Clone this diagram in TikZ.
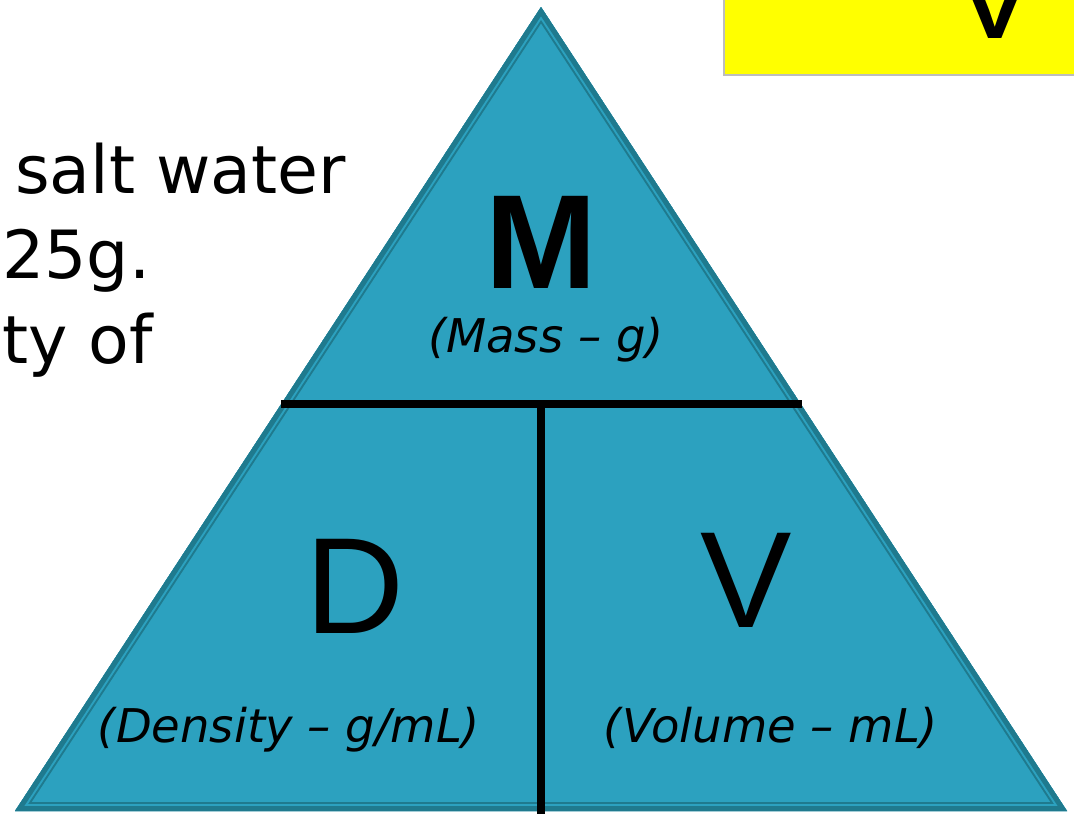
\documentclass[tikz,border=0pt]{standalone}
\usepackage{fontspec}
\setmainfont{DejaVu Sans}
\newfontfamily\arialf{Liberation Sans}
\definecolor{tealfill}{HTML}{2CA1BF}
\definecolor{tealdark}{HTML}{1F7A8E}
\definecolor{slideyellow}{HTML}{FFFF00}
\definecolor{boxgray}{HTML}{BDBDBD}
\tikzset{
  bodytext/.style={font=\fontsize{66.5}{66}\selectfont, anchor=base west, inner sep=0pt},
  bigletter/.style={font=\arialf\fontsize{137}{137}\selectfont, anchor=base, inner sep=0pt},
  unitlabel/.style={font=\itshape\fontsize{46.5}{46}\selectfont, anchor=base, inner sep=0pt},
  divider/.style={line width=8pt, black},
}
\begin{document}
\begin{tikzpicture}[x=1pt,y=-1pt]
\useasboundingbox (0,0) rectangle (1074,814);
\fill[white] (0,0) rectangle (1074,814);
% yellow box at top right
\draw[fill=slideyellow, draw=boxgray, line width=1.2pt] (724,-10) rectangle (1090,75);
\begin{scope}
  \clip (0,0) rectangle (1074,814);
  \node[bigletter] (vbox) at (995,38) {V};
\end{scope}
% question text (cut off at left)
\node[bodytext] (t1) at (15,193) {salt water};
\node[bodytext] (t2) at (2,278) {25g.};
\node[bodytext] (t3) at (2,363) {ty of};
% triangle
\coordinate (apex) at (541,7);
\coordinate (bl) at (15,811);
\coordinate (br) at (1067,811);
\fill[tealfill] (apex) -- (bl) -- (br) -- cycle;
\begin{scope}
  \clip (apex) -- (bl) -- (br) -- cycle;
  \draw[tealdark, line width=18pt, line join=round] (apex) -- (bl) -- (br) -- cycle;
  \draw[tealfill, line width=14pt, line join=round] (apex) -- (bl) -- (br) -- cycle;
  \draw[tealdark, line width=10pt, line join=round] (apex) -- (bl) -- (br) -- cycle;
\end{scope}
% dividers
\coordinate (hl) at (281,404);
\coordinate (hr) at (802,404);
\coordinate (vt) at (541,404);
\coordinate (vb) at (541,814);
\draw[divider] (hl) -- (hr);
\draw[divider] (vt) -- (vb);
% labels
\node[bigletter, font=\arialf\bfseries\fontsize{134}{134}\selectfont] (M) at (541,288) {M};
\node[unitlabel] (ml) at (546,352) {(Mass – g)};
\node[bigletter] (D) at (355,633) {D};
\node[unitlabel] (dl) at (289,742) {(Density – g/mL)};
\node[bigletter] (V) at (746,627) {V};
\node[unitlabel] (vl) at (771,742) {(Volume – mL)};
\end{tikzpicture}
\end{document}
